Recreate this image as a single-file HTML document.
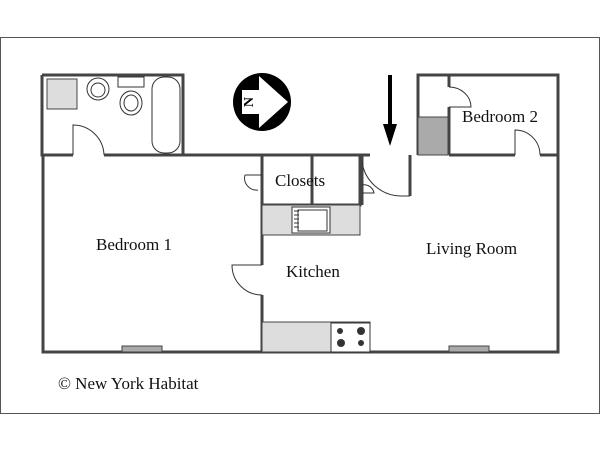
<!DOCTYPE html><html><head><style>body{margin:0;background:#fff}svg{display:block}</style></head><body>
<svg width="600" height="450" viewBox="0 0 600 450" font-family="Liberation Serif, serif">
<rect x="0.5" y="37.5" width="599" height="376" fill="none" stroke="#555" stroke-width="1"/>
<g fill="none" stroke="#444" stroke-width="3">
<path d="M42 75H183V155"/><path d="M42 75V155H73"/><path d="M104 155H370"/>
<path d="M43 155V352H558V155H540"/><path d="M515 155H449"/>
<path d="M418 155V75H558V155"/><path d="M449 75V87M449 107V155"/>
<path d="M410 155V196"/><path d="M362 155V205"/>
<path d="M262 155V265M262 295V352"/>
<path d="M262 205H360V155M312 155V205"/>
</g>
<g fill="#ddd" stroke="#444" stroke-width="1">
<rect x="262" y="205" width="98" height="30"/><rect x="262" y="322" width="108" height="30"/>
<rect x="47" y="79" width="30" height="30"/>
</g>
<rect x="418" y="117" width="30" height="38" fill="#aaa" stroke="#444"/>
<rect x="122" y="346" width="40" height="6" fill="#aaa" stroke="#444"/>
<rect x="449" y="346" width="40" height="6" fill="#aaa" stroke="#444"/>
<rect x="292" y="207" width="38" height="26" fill="#fff" stroke="#333"/>
<rect x="298" y="210" width="29" height="21" fill="#fff" stroke="#333"/>
<path d="M294 211h5M294 215h5M294 219h5M294 223h5M294 227h5" stroke="#333"/>
<rect x="331" y="323" width="39" height="29" fill="#fff" stroke="#333"/>
<g fill="#333"><circle cx="340" cy="331" r="3"/><circle cx="361" cy="331" r="4"/><circle cx="341" cy="343" r="4"/><circle cx="361" cy="343" r="3"/></g>
<g fill="none" stroke="#333" stroke-width="1">
<path d="M73 155V125A31 31 0 0 1 104 155"/>
<path d="M362 162A40 40 0 0 0 400 196H410"/>
<path d="M362 185A10 10 0 0 1 374 193H362"/>
<path d="M262 265H232A30 30 0 0 0 262 295"/>
<path d="M245 175H262M245 175A12 12 0 0 0 258 190"/>
<path d="M449 107H471A22 20 0 0 0 449 87"/>
<path d="M515 155V130A25 25 0 0 1 540 155"/>
<rect x="152" y="77" width="28" height="76" rx="12"/>
<circle cx="98" cy="89" r="11"/><circle cx="98" cy="90" r="7"/>
<rect x="118" y="77" width="26" height="10"/>
<ellipse cx="131" cy="103" rx="11" ry="12"/><ellipse cx="131" cy="103" rx="7" ry="8"/>
</g>
<circle cx="262" cy="102" r="29" fill="#000"/>
<path d="M242 90H259V76L288 102L259 128V114H242Z" fill="#fff"/>
<text x="250" y="102" font-size="14" font-weight="bold" transform="rotate(-90 250 102)" text-anchor="middle" dominant-baseline="middle">N</text>
<path d="M390 75V128" stroke="#000" stroke-width="4"/>
<path d="M383 124H397L390 146Z" fill="#000"/>
<g font-size="17" fill="#111">
<text x="96" y="250">Bedroom 1</text>
<text x="426" y="254">Living Room</text>
<text x="286" y="277">Kitchen</text>
<text x="275" y="186">Closets</text>
<text x="462" y="122">Bedroom 2</text>
<text x="58" y="389">©  New York Habitat</text>
</g>
</svg></body></html>
